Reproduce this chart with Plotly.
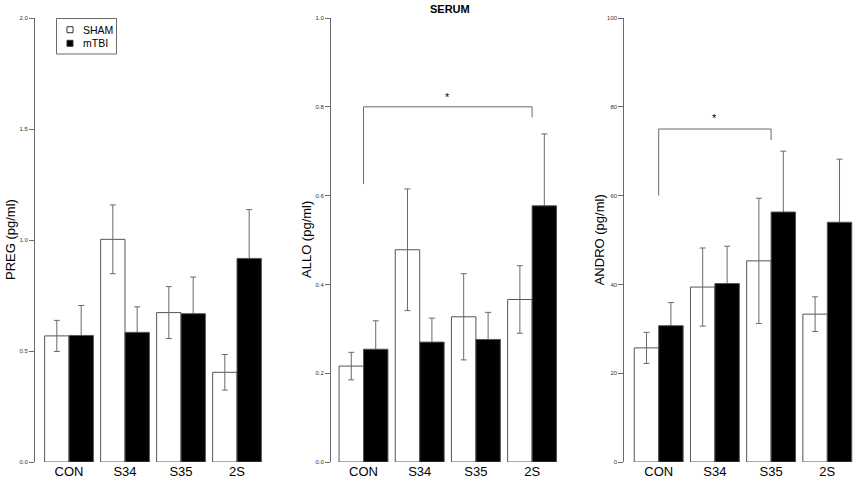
import plotly.graph_objects as go

W, H = 856, 481

CATEGORIES = ["CON", "S34", "S35", "2S"]
GROUPS = ["SHAM", "mTBI"]

PREG_SHAM = [0.568, 1.003, 0.673, 0.404]
PREG_SHAM_SE = [0.070, 0.155, 0.117, 0.080]
PREG_MTBI = [0.570, 0.584, 0.668, 0.917]
PREG_MTBI_SE = [0.135, 0.115, 0.165, 0.220]

ALLO_SHAM = [0.216, 0.478, 0.327, 0.366]
ALLO_SHAM_SE = [0.031, 0.137, 0.097, 0.076]
ALLO_MTBI = [0.254, 0.270, 0.276, 0.577]
ALLO_MTBI_SE = [0.064, 0.054, 0.061, 0.162]

ANDRO_SHAM = [25.7, 39.4, 45.3, 33.3]
ANDRO_SHAM_SE = [3.5, 8.8, 14.1, 3.9]
ANDRO_MTBI = [30.7, 40.2, 56.3, 54.0]
ANDRO_MTBI_SE = [5.2, 8.4, 13.7, 14.2]

Y_TITLES = ["PREG (pg/ml)", "ALLO (pg/ml)", "ANDRO (pg/ml)"]
Y_MAX = [2.0, 1.0, 100]
Y_DTICK = [0.5, 0.2, 20]
Y_FORMAT = [".1f", ".1f", "d"]

# significance brackets: (panel, from, to, left end, top, right end, star level)
SIG = [
    (2, "CON", "2S", 0.626, 0.80, 0.776, 0.823),
    (3, "CON", "S35", 60.0, 75.0, 72.5, 77.5),
]

GREY = "#6a6a6a"
FONT = "Arial, Liberation Sans, sans-serif"
FILLS = {"SHAM": "white", "mTBI": "black"}

# pixel layout of each panel: (axis-line x, right edge x, first category center, spacing)
PANELS = [
    (35, 268, 69.0, 56.0),
    (331, 560, 363.5, 56.2),
    (624.3, 856, 658.7, 56.2),
]
Y_BOTTOM_PX, Y_TOP_PX = 462, 18


def px(x):
    return x / W


def py(y):
    return (H - y) / H


data = [
    (PREG_SHAM, PREG_SHAM_SE, PREG_MTBI, PREG_MTBI_SE),
    (ALLO_SHAM, ALLO_SHAM_SE, ALLO_MTBI, ALLO_MTBI_SE),
    (ANDRO_SHAM, ANDRO_SHAM_SE, ANDRO_MTBI, ANDRO_MTBI_SE),
]

fig = go.Figure()
layout = {}
for i, (sham, sham_se, mtbi, mtbi_se) in enumerate(data):
    n = i + 1
    xa = "x" if n == 1 else f"x{n}"
    ya = "y" if n == 1 else f"y{n}"
    fig.add_trace(go.Bar(
        x=CATEGORIES, y=sham, name="SHAM", offsetgroup="sham",
        marker=dict(color=FILLS["SHAM"], line=dict(color="#555555", width=1)),
        error_y=dict(type="data", array=sham_se, color=GREY, thickness=1, width=3),
        xaxis=xa, yaxis=ya, showlegend=False,
    ))
    # error bars of mTBI drawn first, so the solid bar hides their lower half
    fig.add_trace(go.Bar(
        x=CATEGORIES, y=mtbi, name="mTBI", offsetgroup="mtbi",
        marker=dict(color="rgba(0,0,0,0)", line=dict(width=0)),
        error_y=dict(type="data", array=mtbi_se, color=GREY, thickness=1, width=3),
        xaxis=xa, yaxis=ya, showlegend=False, hoverinfo="skip",
    ))
    fig.add_trace(go.Bar(
        x=CATEGORIES, y=mtbi, name="mTBI", offsetgroup="mtbi",
        marker=dict(color=FILLS["mTBI"], line=dict(color="#555555", width=1)),
        xaxis=xa, yaxis=ya, showlegend=False,
    ))

    axis_px, right_px, c0, sp = PANELS[i]
    left = (axis_px - c0) / sp
    right = (right_px - c0) / sp
    xkey = "xaxis" if n == 1 else f"xaxis{n}"
    ykey = "yaxis" if n == 1 else f"yaxis{n}"
    layout[xkey] = dict(
        domain=[px(axis_px), px(right_px)], anchor=ya, type="category",
        categoryorder="array", categoryarray=CATEGORIES, automargin=False,
        range=[left, right], showline=False, showgrid=False, zeroline=False,
        ticks="", tickfont=dict(size=13, color="black", family=FONT),
    )
    layout[ykey] = dict(
        domain=[py(Y_BOTTOM_PX), py(Y_TOP_PX)], anchor=xa, automargin=False,
        range=[0, Y_MAX[i]], dtick=Y_DTICK[i], tick0=0, tickformat=Y_FORMAT[i],
        showline=True, linecolor=GREY, linewidth=1, showgrid=False, zeroline=False,
        ticks="outside", ticklen=5, tickcolor=GREY, tickwidth=1,
        tickfont=dict(size=6, color="#333333", family=FONT),
    )

annotations = []
shapes = []
for i, t in enumerate(Y_TITLES):
    axis_px = PANELS[i][0]
    annotations.append(dict(
        text=t, textangle=-90, x=px(axis_px - 25), y=py(240),
        xref="paper", yref="paper", showarrow=False,
        xanchor="center", yanchor="middle",
        font=dict(size=13, color="black", family=FONT),
    ))
annotations.append(dict(
    text="<b>SERUM</b>", x=px(450), y=py(9), xref="paper", yref="paper",
    xanchor="center", yanchor="middle",
    showarrow=False, font=dict(size=11, color="black", family=FONT),
))

# legend box drawn in the figure's top-left panel
shapes.append(dict(type="rect", xref="paper", yref="paper",
                   x0=px(56.5), x1=px(116.5), y0=py(54), y1=py(18.5),
                   line=dict(color=GREY, width=1), fillcolor="white", layer="above"))
for k, g in enumerate(GROUPS):
    yc = 29.7 + k * 13.6
    shapes.append(dict(type="rect", xref="paper", yref="paper",
                       x0=px(67), x1=px(73), y0=py(yc + 3), y1=py(yc - 3),
                       line=dict(color="#333333", width=1), fillcolor=FILLS[g], layer="above"))
    annotations.append(dict(
        text=g, x=px(81), y=py(yc), xref="paper", yref="paper", showarrow=False,
        xanchor="left", yanchor="middle",
        font=dict(size=10.5, color="black", family=FONT),
    ))

for panel, c_from, c_to, y_left, y_top, y_right, y_star in SIG:
    xr = "x" if panel == 1 else f"x{panel}"
    yr = "y" if panel == 1 else f"y{panel}"
    i0 = CATEGORIES.index(c_from)
    i1 = CATEGORIES.index(c_to)
    line = dict(color=GREY, width=1)
    shapes.append(dict(type="line", xref=xr, yref=yr, x0=i0, x1=i0, y0=y_left, y1=y_top, line=line))
    shapes.append(dict(type="line", xref=xr, yref=yr, x0=i0, x1=i1, y0=y_top, y1=y_top, line=line))
    shapes.append(dict(type="line", xref=xr, yref=yr, x0=i1, x1=i1, y0=y_top, y1=y_right, line=line))
    annotations.append(dict(
        text="*", x=(i0 + i1) / 2, y=y_star, xref=xr, yref=yr, showarrow=False,
        xanchor="center", yanchor="middle",
        font=dict(size=11, color="black", family=FONT),
    ))

fig.update_layout(
    width=W, height=H,
    margin=dict(l=0, r=0, t=0, b=0),
    paper_bgcolor="white", plot_bgcolor="white",
    barmode="group", bargap=0.13, bargroupgap=0,
    showlegend=False, hovermode=False,
    annotations=annotations, shapes=shapes,
    **layout,
)

fig.write_html(
    "out.html",
    config={"displayModeBar": False},
    post_script="document.body.style.margin='0';document.body.style.overflow='hidden';",
)
